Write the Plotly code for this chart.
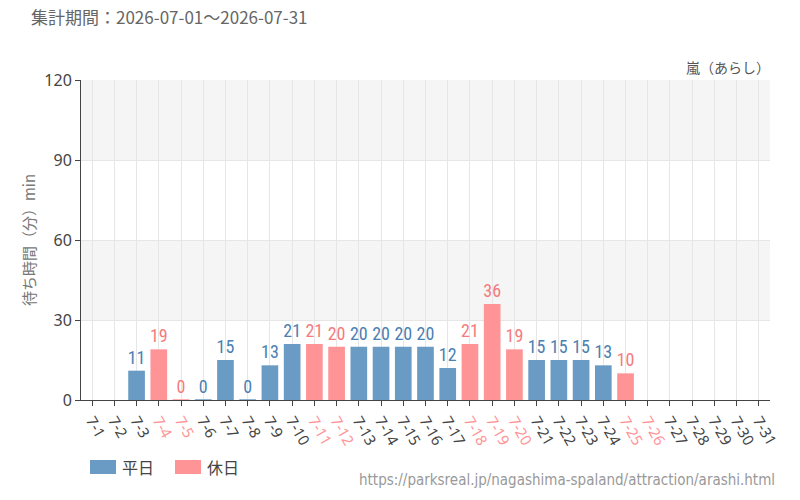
import plotly.graph_objects as go

days = [f"7-{d}" for d in range(1, 32)]
values = [None, None, 11, 19, 0, 0, 15, 0, 13, 21, 21, 20, 20, 20, 20, 20, 12,
          21, 36, 19, 15, 15, 15, 13, 10, None, None, None, None, None, None]
holidays = ["7-4", "7-5", "7-11", "7-12", "7-18", "7-19", "7-20", "7-25", "7-26"]
y_ticks = [0, 30, 60, 90, 120]
series_names = ["平日", "休日"]

BLUE = "#6a9bc4"
RED = "#ff9496"
BLUE_TXT = "#4b80b2"
RED_TXT = "#f47b7e"
LABEL_FONT = "Liberation Sans Narrow, Roboto Condensed, Roboto"

wk_vals = [v if (d not in holidays) else None for d, v in zip(days, values)]
hd_vals = [v if (d in holidays) else None for d, v in zip(days, values)]

def lw(vals):
    return [1 if v == 0 else 0 for v in vals]

fig = go.Figure()
for name, vals, col, tcol in [(series_names[0], wk_vals, BLUE, BLUE_TXT), (series_names[1], hd_vals, RED, RED_TXT)]:
    fig.add_trace(go.Bar(
        x=days, y=vals, name=name, marker=dict(color=col, line=dict(color=col, width=lw(vals))),
        text=[str(v) if v is not None else "" for v in vals], textposition="outside",
        constraintext="none",
        textfont=dict(color=tcol, size=18, family=LABEL_FONT),
        cliponaxis=False, hoverinfo="skip", showlegend=False))

ticktext = [f'<span style="color:{RED}">{d}</span>' if d in holidays else d for d in days]

# plot area in pixels: x 81..770, y 80..400
def px_x(p):
    return (p - 81) / 689
def px_y(p):
    return (400 - p) / 320

shapes = []
for lo, hi in [(30, 60), (90, 120)]:
    shapes.append(dict(type="rect", xref="paper", yref="y", x0=0, x1=1, y0=lo, y1=hi,
                       fillcolor="#f5f5f5", line=dict(width=0), layer="below"))

annotations = [
    dict(text="集計期間：2026-07-01～2026-07-31", xref="paper", yref="paper", x=-0.075, y=1.0,
         xanchor="left", yanchor="bottom", yshift=49, showarrow=False,
         font=dict(size=17, color="#666")),
    dict(text="嵐（あらし）", xref="paper", yref="paper", x=1.0, y=1.0, xanchor="right",
         yanchor="bottom", yshift=1, xshift=2, showarrow=False, font=dict(size=14, color="#555")),
    dict(text="https://parksreal.jp/nagashima-spaland/attraction/arashi.html", xref="paper", yref="paper",
         x=1.01, y=0, xanchor="right", yanchor="top", yshift=-69, showarrow=False,
         font=dict(size=15, color="#999", family="DejaVu Sans Condensed")),
]

# legend (drawn manually to match swatch sizes)
for (sx0, sx1, tx), name, col in [((90, 116, 120), series_names[0], BLUE), ((175, 201, 205), series_names[1], RED)]:
    shapes.append(dict(type="rect", xref="paper", yref="paper", x0=px_x(sx0), x1=px_x(sx1),
                       y0=px_y(474), y1=px_y(460), fillcolor=col, line=dict(width=0)))
    annotations.append(dict(text=name, xref="paper", yref="paper", x=px_x(tx), y=px_y(467),
                            xanchor="left", yanchor="middle", showarrow=False,
                            font=dict(size=16, color="#444")))

fig.update_layout(
    width=800, height=500,
    margin=dict(l=81, r=30, t=80, b=100, autoexpand=False),
    barmode="overlay", bargap=0.25,
    plot_bgcolor="white", paper_bgcolor="white",
    font=dict(family="Noto Sans CJK JP, Noto Sans", color="#444"),
    shapes=shapes,
    annotations=annotations,
    showlegend=False,
    xaxis=dict(type="category", range=[-0.5, 30.5], tickmode="array", tickvals=days, ticktext=ticktext,
               tickangle=60, tickfont=dict(size=15, color="#444", family="Noto Sans, DejaVu Sans"),
               showgrid=True, gridcolor="#e6e6e6", gridwidth=1,
               showline=True, linecolor="#444", linewidth=1,
               ticks="outside", ticklen=5, tickcolor="#444", fixedrange=True),
    yaxis=dict(range=[0, 120], tickvals=y_ticks, tickfont=dict(size=16, color="#444", family="Noto Sans, DejaVu Sans"),
               showgrid=True, gridcolor="#e6e6e6", gridwidth=1, zeroline=False,
               showline=True, linecolor="#444", linewidth=1,
               ticks="outside", ticklen=5, tickcolor="#444",
               title=dict(text="待ち時間（分）min", font=dict(size=15, color="#777"), standoff=5)),
)

fig.write_html("out.html")
